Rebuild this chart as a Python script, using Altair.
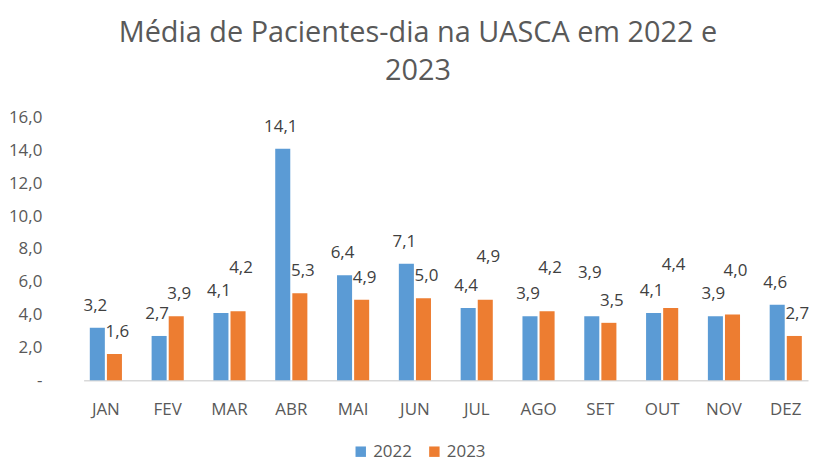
import altair as alt
import pandas as pd

months = ["JAN", "FEV", "MAR", "ABR", "MAI", "JUN", "JUL", "AGO", "SET", "OUT", "NOV", "DEZ"]
v2022 = [3.2, 2.7, 4.1, 14.1, 6.4, 7.1, 4.4, 3.9, 3.9, 4.1, 3.9, 4.6]
v2023 = [1.6, 3.9, 4.2, 5.3, 4.9, 5.0, 4.9, 4.2, 3.5, 4.4, 4.0, 2.7]
series = ["2022", "2023"]
colors = ["#5B9BD5", "#ED7D31"]
y_ticks = [0, 2, 4, 6, 8, 10, 12, 14, 16]

rows = []
for m, a, b in zip(months, v2022, v2023):
    rows.append({"mes": m, "ano": "2022", "valor": a, "rot": f"{a:.1f}".replace(".", ",")})
    rows.append({"mes": m, "ano": "2023", "valor": b, "rot": f"{b:.1f}".replace(".", ",")})
df = pd.DataFrame(rows)

FONT = "Open Sans"
GREY = "#595959"

x_scale = alt.Scale(paddingInner=0.48, paddingOuter=0.1)
x_axis = alt.Axis(labelAngle=0, labelFontSize=17, labelColor=GREY,
                  labelFont=FONT, ticks=False, domainColor="#D9D9D9",
                  domainWidth=1.5, labelPadding=21)
y_scale = alt.Scale(domain=[0, 16], nice=False)
y_axis = alt.Axis(values=y_ticks, grid=False, domain=False, ticks=False,
                  labelFontSize=17, labelColor=GREY, labelFont=FONT,
                  labelPadding=42, labelOverlap=False,
                  labelExpr="datum.value == 0 ? '-' : replace(format(datum.value, '.1f'), '.', ',')")

x = alt.X("mes:N", sort=months, title=None, scale=x_scale, axis=x_axis)
xoff = alt.XOffset("ano:N", sort=series, scale=alt.Scale(paddingInner=0.12))

bars = alt.Chart(df).mark_bar().encode(
    x=x,
    xOffset=xoff,
    y=alt.Y("valor:Q", title=None, scale=y_scale, axis=y_axis),
    color=alt.Color("ano:N", scale=alt.Scale(domain=series, range=colors),
                    legend=alt.Legend(title=None, orient="none", direction="horizontal",
                                      legendX=270, legendY=327,
                                      symbolType="square", symbolSize=110, labelFontSize=17,
                                      labelColor=GREY, labelFont=FONT,
                                      columnPadding=14)),
)

lab_base = alt.Chart(df).transform_joinaggregate(
    vmax="max(valor)", vmin="min(valor)", groupby=["mes"]
).transform_calculate(
    ylab="datum.valor + ((datum.vmax - datum.vmin) < 0.8 && datum.valor == datum.vmax ? 1.3 : 0)"
)

lab22 = lab_base.transform_filter(alt.datum.ano == "2022").mark_text(
    baseline="bottom", dy=-13, dx=-2, fontSize=17, color="#404040", font=FONT
).encode(x=x, xOffset=xoff,
         y=alt.Y("ylab:Q", title=None, scale=y_scale, axis=y_axis), text="rot:N")

lab23 = lab_base.transform_filter(alt.datum.ano == "2023").mark_text(
    baseline="bottom", dy=-13, dx=3, fontSize=17, color="#404040", font=FONT
).encode(x=x, xOffset=xoff,
         y=alt.Y("ylab:Q", title=None, scale=y_scale, axis=y_axis), text="rot:N")

chart = alt.layer(bars, lab22, lab23).properties(
    width=728,
    height=264,
    padding={"left": 0, "top": 10, "right": 0, "bottom": 8},
    title=alt.Title(["Média de Pacientes-dia na UASCA em 2022 e", "2023"],
                    fontSize=29, font=FONT, fontWeight="normal", color=GREY,
                    anchor="middle", lineHeight=38, offset=23, dx=-28),
).configure_view(stroke=None).configure_axisY(labelOverlap=False)

chart.save("out.html", embed_options={"renderer": "svg", "actions": False})
